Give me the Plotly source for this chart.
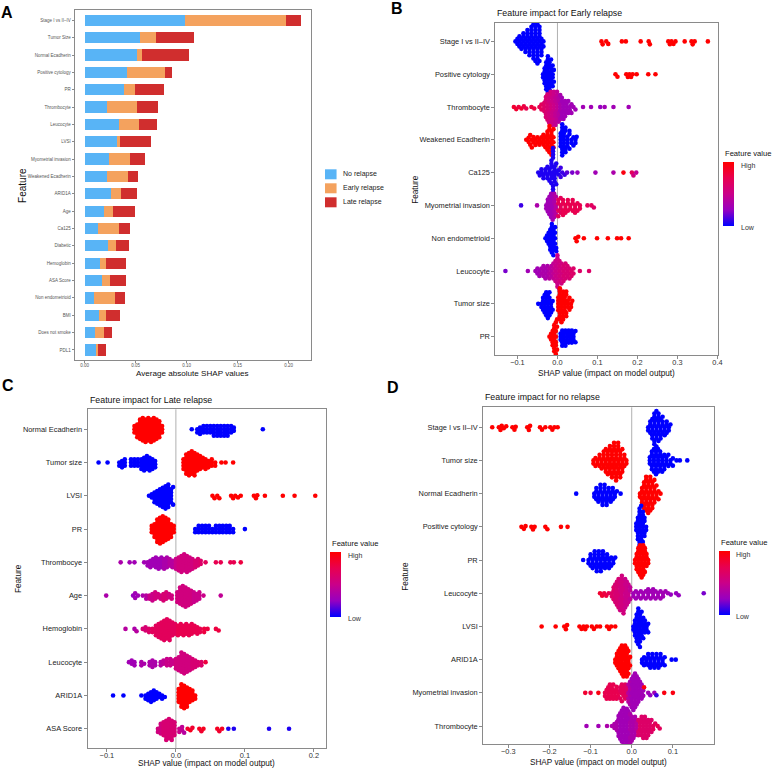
import math
import plotly.graph_objects as go

W, H = 777, 770
FONT = "Liberation Sans, Arial, sans-serif"

# ---------------- Panel A data ----------------
A_features = ["Stage I vs II–IV", "Tumor Size", "Normal Ecadherin", "Positive cytology", "PR",
              "Thrombocyte", "Leucocyte", "LVSI", "Myometrial invasion", "Weakened Ecadherin",
              "ARID1A", "Age", "Ca125", "Diabetic", "Hemoglobin", "ASA Score",
              "Non endometrioid", "BMI", "Does not smoke", "PDL1"]
A_no_relapse = [0.098, 0.054, 0.051, 0.042, 0.039, 0.022, 0.034, 0.032, 0.024, 0.022,
                0.026, 0.019, 0.013, 0.023, 0.015, 0.017, 0.009, 0.014, 0.010, 0.011]
A_early_relapse = [0.099, 0.016, 0.005, 0.037, 0.010, 0.029, 0.019, 0.003, 0.021, 0.021,
                   0.010, 0.009, 0.021, 0.008, 0.006, 0.008, 0.021, 0.007, 0.009, 0.002]
A_late_relapse = [0.015, 0.037, 0.046, 0.007, 0.029, 0.021, 0.018, 0.030, 0.014, 0.009,
                  0.015, 0.021, 0.011, 0.013, 0.020, 0.016, 0.010, 0.014, 0.008, 0.008]
A_series = ["No relapse", "Early relapse", "Late relapse"]
A_colors = ["#58B4F6", "#F4A25E", "#D02E2E"]
A_ticks = [0.0, 0.05, 0.10, 0.15, 0.20]
A_ticktext = ["0.00", "0.05", "0.10", "0.15", "0.20"]

# ---------------- Beeswarm data: (shap value, count, feature value 0..1) ----------------
B_features = ["Stage I vs II–IV", "Positive cytology", "Thrombocyte", "Weakened Ecadherin", "Ca125",
              "Myometrial invasion", "Non endometrioid", "Leucocyte", "Tumor size", "PR"]
B_stage = [(-0.105, 1, 0), (-0.1, 2, 0), (-0.095, 3, 0), (-0.09, 3, 0), (-0.085, 4, 0), (-0.08, 4, 0),
           (-0.075, 5, 0), (-0.07, 5, 0), (-0.065, 6, 0), (-0.06, 7, 0), (-0.055, 8, 0), (-0.05, 8, 0),
           (-0.045, 7, 0), (-0.04, 5, 0), (-0.035, 2, 0),
           (0.110, 1, 1), (0.113, 1, 1), (0.122, 1, 1), (0.127, 1, 1), (0.161, 1, 1), (0.171, 1, 1),
           (0.208, 1, 1), (0.228, 1, 1), (0.231, 1, 1), (0.277, 1, 1), (0.281, 1, 1), (0.285, 1, 1),
           (0.290, 1, 1), (0.295, 1, 1), (0.318, 1, 1), (0.335, 1, 1), (0.338, 1, 1), (0.343, 1, 1),
           (0.376, 1, 1)]
B_cytology = [(-0.036, 2, 0), (-0.032, 4, 0), (-0.028, 6, 0), (-0.024, 7, 0), (-0.02, 7, 0),
              (-0.016, 6, 0), (-0.012, 4, 0), (-0.009, 2, 0),
              (0.145, 1, 1), (0.150, 1, 1), (0.172, 1, 1), (0.176, 1, 1), (0.180, 1, 1), (0.184, 1, 1),
              (0.188, 1, 1), (0.198, 1, 1), (0.227, 1, 1), (0.245, 1, 1)]
B_thrombocyte = [(-0.109, 1, 0.85), (-0.103, 1, 0.85), (-0.097, 1, 0.8), (-0.09, 1, 0.85), (-0.084, 1, 0.8),
                 (-0.078, 1, 0.75), (-0.065, 1, 0.8), (-0.058, 1, 0.8), (-0.045, 1, 0.75), (-0.04, 2, 0.7),
                 (-0.033, 3, 0.65), (-0.029, 4, 0.6), (-0.025, 5, 0.6), (-0.021, 5, 0.55), (-0.017, 6, 0.55),
                 (-0.013, 6, 0.5), (-0.009, 6, 0.5), (-0.005, 6, 0.45), (-0.001, 6, 0.45), (0.003, 5, 0.4),
                 (0.007, 5, 0.35), (0.011, 4, 0.3), (0.015, 4, 0.3), (0.019, 3, 0.3), (0.023, 3, 0.3),
                 (0.027, 2, 0.3), (0.031, 2, 0.3), (0.035, 2, 0.3), (0.04, 1, 0.3), (0.045, 1, 0.3),
                 (0.064, 1, 0.3), (0.084, 1, 0.3), (0.107, 1, 0.25), (0.118, 1, 0.3), (0.14, 1, 0.3),
                 (0.178, 1, 0.3)]
B_weak_ecad = [(-0.078, 1, 1), (-0.072, 2, 1), (-0.068, 2, 1), (-0.064, 2, 1), (-0.06, 2, 1), (-0.055, 2, 1),
               (-0.05, 2, 1), (-0.045, 2, 1), (-0.04, 2, 1), (-0.035, 3, 1), (-0.03, 3, 1), (-0.025, 5, 1),
               (-0.02, 6, 1), (-0.015, 6, 1), (-0.01, 4, 1),
               (0.008, 5, 0), (0.012, 6, 0), (0.016, 5, 0), (0.02, 4, 0), (0.025, 4, 0), (0.03, 3, 0),
               (0.035, 2, 0), (0.04, 2, 0), (0.045, 2, 0), (0.048, 1, 0)]
B_ca125 = [(-0.048, 1, 0.05), (-0.044, 1, 0.05), (-0.04, 2, 0.05), (-0.035, 2, 0.05), (-0.03, 2, 0.05),
           (-0.025, 3, 0.05), (-0.02, 3, 0.05), (-0.015, 6, 0.05), (-0.011, 9, 0.05), (-0.007, 5, 0.05),
           (-0.003, 3, 0.05), (0.003, 2, 0.05), (0.008, 2, 0.1), (0.012, 1, 0.1), (0.018, 1, 0.1),
           (0.024, 1, 0.15), (0.037, 1, 0.2), (0.05, 1, 0.25), (0.095, 1, 0.3), (0.14, 1, 0.35),
           (0.165, 1, 0.95), (0.186, 1, 0.7), (0.19, 1, 0.55), (0.197, 1, 0.45)]
B_myometrial = [(-0.091, 1, 0.1), (-0.051, 1, 0.35), (-0.028, 2, 0.3), (-0.024, 3, 0.3), (-0.02, 4, 0.3),
                (-0.016, 5, 0.3), (-0.012, 5, 0.3), (-0.008, 5, 0.35), (-0.004, 4, 0.4), (0.002, 4, 0.7),
                (0.008, 4, 0.7), (0.014, 4, 0.75), (0.02, 3, 0.75), (0.026, 3, 0.75), (0.032, 2, 0.75),
                (0.038, 3, 0.75), (0.044, 3, 0.75), (0.05, 2, 0.75), (0.056, 2, 0.75), (0.075, 1, 0.7),
                (0.085, 1, 0.7), (0.091, 1, 0.65)]
B_nonendo = [(-0.03, 1, 0), (-0.026, 2, 0), (-0.022, 3, 0), (-0.018, 5, 0), (-0.014, 6, 0), (-0.01, 6, 0),
             (-0.006, 4, 0), (-0.003, 2, 0),
             (0.045, 1, 1), (0.048, 1, 1), (0.052, 1, 1), (0.066, 1, 1), (0.099, 1, 1), (0.126, 1, 1),
             (0.149, 1, 1), (0.159, 1, 1), (0.178, 1, 1)]
B_leucocyte = [(-0.13, 1, 0.2), (-0.074, 1, 0.3), (-0.055, 1, 0.3), (-0.05, 2, 0.3), (-0.045, 2, 0.3),
               (-0.04, 2, 0.35), (-0.035, 3, 0.35), (-0.03, 3, 0.35), (-0.025, 3, 0.35), (-0.02, 3, 0.4),
               (-0.015, 3, 0.4), (-0.01, 4, 0.45), (-0.005, 5, 0.5), (0.0, 8, 0.5), (0.005, 6, 0.55),
               (0.01, 5, 0.55), (0.015, 4, 0.6), (0.02, 4, 0.6), (0.025, 3, 0.6), (0.03, 3, 0.6),
               (0.035, 2, 0.65), (0.04, 2, 0.65), (0.056, 1, 0.65), (0.079, 1, 0.65)]
B_tumor = [(-0.048, 1, 0), (-0.04, 2, 0), (-0.036, 3, 0), (-0.032, 4, 0), (-0.028, 5, 0), (-0.024, 5, 0),
           (-0.02, 5, 0), (-0.016, 3, 0), (-0.012, 2, 0),
           (0.002, 5, 1), (0.006, 6, 1), (0.01, 6, 1), (0.014, 5, 1), (0.018, 5, 1), (0.022, 4, 1),
           (0.026, 3, 1), (0.03, 2, 1), (0.034, 2, 1), (0.037, 1, 1)]
B_pr = [(-0.02, 1, 1), (-0.016, 2, 1), (-0.012, 4, 1), (-0.008, 6, 1), (-0.004, 6, 1), (-0.001, 3, 1),
        (0.008, 3, 0), (0.012, 3, 0), (0.016, 3, 0), (0.02, 3, 0), (0.024, 3, 0), (0.028, 2, 0),
        (0.032, 3, 0), (0.036, 2, 0), (0.04, 3, 0), (0.045, 2, 0)]
B_rows = [B_stage, B_cytology, B_thrombocyte, B_weak_ecad, B_ca125,
          B_myometrial, B_nonendo, B_leucocyte, B_tumor, B_pr]

C_features = ["Normal Ecadherin", "Tumor size", "LVSI", "PR", "Thrombocye",
              "Age", "Hemoglobin", "Leucocyte", "ARID1A", "ASA Score"]
C_ecad = [(-0.06, 3, 1), (-0.056, 5, 1), (-0.052, 7, 1), (-0.048, 8, 1), (-0.044, 8, 1), (-0.04, 8, 1),
          (-0.036, 8, 1), (-0.032, 8, 1), (-0.028, 7, 1), (-0.024, 6, 1), (-0.02, 3, 1),
          (0.023, 1, 0), (0.031, 2, 0), (0.035, 3, 0), (0.04, 3, 0), (0.045, 3, 0), (0.05, 3, 0),
          (0.055, 4, 0), (0.06, 4, 0), (0.065, 4, 0), (0.07, 4, 0), (0.075, 4, 0), (0.08, 3, 0),
          (0.084, 2, 0), (0.126, 1, 0)]
C_tumor = [(-0.112, 1, 0), (-0.099, 1, 0), (-0.082, 2, 0), (-0.078, 3, 0), (-0.074, 3, 0), (-0.065, 3, 0),
           (-0.06, 3, 0), (-0.055, 3, 0), (-0.05, 4, 0), (-0.046, 5, 0), (-0.042, 5, 0), (-0.038, 5, 0),
           (-0.034, 4, 0), (-0.03, 3, 0),
           (0.011, 4, 1), (0.015, 7, 1), (0.019, 8, 1), (0.023, 8, 1), (0.027, 8, 1), (0.031, 6, 1),
           (0.035, 5, 1), (0.039, 4, 1), (0.043, 4, 1), (0.047, 3, 1), (0.052, 3, 1), (0.057, 2, 1),
           (0.066, 1, 1), (0.072, 1, 1), (0.083, 1, 1)]
C_lvsi = [(-0.039, 1, 0), (-0.035, 2, 0), (-0.031, 4, 0), (-0.027, 5, 0), (-0.023, 6, 0), (-0.019, 7, 0),
          (-0.015, 8, 0), (-0.011, 8, 0), (-0.007, 5, 0), (-0.004, 2, 0),
          (0.053, 1, 1), (0.056, 1, 1), (0.06, 1, 1), (0.063, 1, 1), (0.08, 1, 1), (0.083, 1, 1),
          (0.086, 1, 1), (0.09, 1, 1), (0.094, 1, 1), (0.113, 1, 1), (0.116, 1, 1), (0.118, 1, 1),
          (0.129, 1, 1), (0.155, 1, 1), (0.172, 1, 1), (0.202, 1, 1)]
C_pr = [(-0.035, 3, 1), (-0.031, 5, 1), (-0.027, 8, 1), (-0.023, 9, 1), (-0.019, 9, 1), (-0.015, 8, 1),
        (-0.011, 7, 1), (-0.007, 5, 1), (-0.003, 3, 1),
        (0.028, 2, 0), (0.033, 3, 0), (0.038, 3, 0), (0.043, 3, 0), (0.048, 3, 0), (0.053, 2, 0),
        (0.058, 3, 0), (0.063, 3, 0), (0.068, 3, 0), (0.073, 3, 0), (0.078, 3, 0), (0.083, 2, 0),
        (0.1, 1, 0)]
C_thrombocye = [(-0.08, 1, 0.35), (-0.067, 1, 0.3), (-0.06, 1, 0.3), (-0.046, 1, 0.3), (-0.041, 2, 0.3),
                (-0.037, 3, 0.3), (-0.033, 3, 0.3), (-0.029, 4, 0.3), (-0.025, 4, 0.3), (-0.021, 4, 0.3),
                (-0.017, 4, 0.35), (-0.013, 4, 0.35), (-0.009, 3, 0.4), (-0.005, 3, 0.4), (0.0, 4, 0.5),
                (0.004, 5, 0.55), (0.008, 6, 0.55), (0.012, 6, 0.55), (0.016, 6, 0.55), (0.02, 5, 0.55),
                (0.024, 4, 0.55), (0.028, 3, 0.6), (0.032, 3, 0.6), (0.036, 2, 0.65), (0.043, 1, 0.7),
                (0.058, 1, 0.75), (0.065, 1, 0.75), (0.079, 1, 0.75), (0.084, 1, 0.75), (0.094, 1, 0.8)]
C_age = [(-0.101, 1, 0.35), (-0.062, 1, 0.25), (-0.059, 2, 0.3), (-0.055, 1, 0.3), (-0.048, 1, 0.35),
         (-0.043, 2, 0.4), (-0.038, 2, 0.5), (-0.034, 3, 0.5), (-0.03, 3, 0.55), (-0.026, 2, 0.55),
         (-0.022, 2, 0.55), (-0.018, 3, 0.6), (-0.014, 3, 0.6), (-0.01, 2, 0.55), (-0.006, 2, 0.55),
         (0.002, 4, 0.55), (0.006, 6, 0.55), (0.01, 7, 0.55), (0.014, 7, 0.55), (0.018, 6, 0.55),
         (0.022, 5, 0.55), (0.026, 4, 0.5), (0.03, 3, 0.5), (0.034, 3, 0.5), (0.04, 1, 0.5),
         (0.065, 1, 0.45)]
C_hemoglobin = [(-0.073, 1, 0.4), (-0.06, 1, 0.35), (-0.057, 1, 0.4), (-0.048, 1, 0.6), (-0.044, 2, 0.6),
                (-0.039, 2, 0.65), (-0.034, 2, 0.7), (-0.029, 4, 0.7), (-0.025, 5, 0.7), (-0.021, 6, 0.7),
                (-0.017, 7, 0.7), (-0.013, 7, 0.7), (-0.009, 7, 0.7), (-0.005, 5, 0.7), (-0.001, 4, 0.7),
                (0.003, 4, 0.75), (0.007, 4, 0.75), (0.011, 4, 0.75), (0.015, 4, 0.75), (0.019, 4, 0.75),
                (0.023, 4, 0.75), (0.027, 3, 0.75), (0.031, 3, 0.75), (0.035, 2, 0.75), (0.041, 2, 0.8),
                (0.046, 1, 0.8), (0.058, 1, 0.8), (0.062, 1, 0.8)]
C_leucocyte = [(-0.068, 1, 0.3), (-0.064, 2, 0.3), (-0.06, 2, 0.3), (-0.05, 2, 0.35), (-0.046, 1, 0.35),
               (-0.038, 2, 0.35), (-0.034, 3, 0.35), (-0.03, 2, 0.35), (-0.022, 2, 0.4), (-0.018, 2, 0.45),
               (-0.013, 3, 0.5), (-0.008, 3, 0.5), (-0.004, 2, 0.5), (0.0, 4, 0.55), (0.004, 5, 0.55),
               (0.008, 7, 0.55), (0.012, 7, 0.55), (0.016, 6, 0.55), (0.02, 5, 0.55), (0.024, 4, 0.6),
               (0.028, 3, 0.6), (0.032, 2, 0.6), (0.037, 2, 0.65), (0.043, 1, 0.8)]
C_arid1a = [(-0.091, 1, 0), (-0.076, 1, 0), (-0.05, 1, 0), (-0.044, 2, 0), (-0.04, 3, 0), (-0.036, 4, 0),
            (-0.032, 4, 0), (-0.028, 3, 0), (-0.024, 2, 0), (-0.02, 2, 0), (-0.016, 1, 0),
            (0.004, 5, 1), (0.008, 8, 1), (0.012, 8, 1), (0.016, 7, 1), (0.02, 5, 1), (0.024, 4, 1),
            (0.028, 2, 1)]
C_asa = [(-0.026, 2, 0.55), (-0.022, 4, 0.55), (-0.018, 5, 0.6), (-0.014, 7, 0.6), (-0.01, 7, 0.6),
         (-0.006, 7, 0.6), (-0.002, 5, 0.6), (0.005, 2, 0.5), (0.009, 2, 0.45), (0.012, 1, 0.4),
         (0.017, 1, 0.85), (0.021, 1, 0.9), (0.024, 1, 0.85), (0.034, 1, 0.9), (0.037, 1, 0.85),
         (0.04, 1, 0.9), (0.06, 1, 0.9), (0.063, 1, 0.85), (0.067, 1, 0.9), (0.076, 1, 0.05),
         (0.084, 1, 0.05), (0.135, 1, 0.05), (0.164, 1, 0.05)]
C_rows = [C_ecad, C_tumor, C_lvsi, C_pr, C_thrombocye, C_age, C_hemoglobin, C_leucocyte, C_arid1a, C_asa]

D_features = ["Stage I vs II–IV", "Tumor size", "Normal Ecadherin", "Positive cytology", "PR",
              "Leucocyte", "LVSI", "ARID1A", "Myometrial invasion", "Thrombocyte"]
D_stage = [(-0.339, 1, 1), (-0.323, 1, 1), (-0.319, 1, 1), (-0.316, 1, 1), (-0.311, 1, 1), (-0.305, 1, 1),
           (-0.29, 1, 1), (-0.285, 1, 1), (-0.282, 1, 1), (-0.254, 1, 1), (-0.25, 1, 1), (-0.247, 1, 1),
           (-0.223, 1, 1), (-0.218, 1, 1), (-0.21, 1, 1), (-0.198, 1, 1), (-0.193, 1, 1), (-0.188, 1, 1),
           (-0.18, 1, 1),
           (0.04, 2, 0), (0.045, 3, 0), (0.05, 5, 0), (0.055, 7, 0), (0.06, 7, 0), (0.065, 6, 0),
           (0.07, 5, 0), (0.075, 4, 0), (0.08, 3, 0), (0.085, 3, 0), (0.09, 2, 0), (0.094, 1, 0)]
D_tumor = [(-0.093, 2, 1), (-0.088, 2, 1), (-0.083, 2, 1), (-0.078, 3, 1), (-0.073, 3, 1), (-0.068, 4, 1),
           (-0.063, 5, 1), (-0.058, 5, 1), (-0.053, 6, 1), (-0.048, 6, 1), (-0.043, 7, 1), (-0.038, 7, 1),
           (-0.033, 7, 1), (-0.028, 6, 1), (-0.023, 5, 1), (-0.018, 3, 1), (-0.013, 2, 1),
           (0.044, 3, 0), (0.049, 4, 0), (0.054, 5, 0), (0.059, 5, 0), (0.064, 5, 0), (0.069, 4, 0),
           (0.074, 4, 0), (0.079, 3, 0), (0.084, 3, 0), (0.089, 2, 0), (0.094, 2, 0), (0.1, 2, 0),
           (0.109, 1, 0), (0.117, 1, 0), (0.135, 1, 0)]
D_ecad = [(-0.135, 1, 0), (-0.091, 2, 0), (-0.086, 3, 0), (-0.081, 3, 0), (-0.076, 4, 0), (-0.071, 4, 0),
          (-0.066, 4, 0), (-0.061, 4, 0), (-0.056, 3, 0), (-0.051, 3, 0), (-0.046, 3, 0), (-0.041, 2, 0),
          (-0.036, 1, 0), (-0.027, 1, 0),
          (0.02, 2, 1), (0.025, 4, 1), (0.03, 6, 1), (0.035, 7, 1), (0.04, 7, 1), (0.045, 7, 1),
          (0.05, 6, 1), (0.055, 5, 1), (0.06, 3, 1), (0.065, 2, 1), (0.07, 1, 1)]
D_cytology = [(-0.268, 1, 1), (-0.262, 1, 1), (-0.258, 1, 1), (-0.244, 1, 1), (-0.24, 1, 1), (-0.236, 1, 1),
              (-0.21, 1, 1), (-0.205, 1, 1), (-0.172, 1, 1), (-0.156, 1, 1),
              (0.011, 3, 0), (0.015, 5, 0), (0.019, 8, 0), (0.023, 8, 0), (0.027, 6, 0), (0.031, 4, 0),
              (0.035, 2, 0)]
D_pr = [(-0.118, 1, 0), (-0.105, 2, 0), (-0.1, 3, 0), (-0.095, 3, 0), (-0.09, 4, 0), (-0.085, 4, 0),
        (-0.08, 4, 0), (-0.075, 4, 0), (-0.07, 4, 0), (-0.065, 3, 0), (-0.06, 3, 0), (-0.055, 3, 0),
        (-0.05, 2, 0), (-0.045, 2, 0), (-0.04, 1, 0),
        (0.008, 2, 1), (0.012, 4, 1), (0.016, 5, 1), (0.02, 6, 1), (0.024, 6, 1), (0.028, 6, 1),
        (0.032, 5, 1), (0.036, 3, 1), (0.04, 2, 1)]
D_leucocyte = [(-0.077, 1, 0.85), (-0.072, 1, 0.85), (-0.067, 1, 0.8), (-0.062, 1, 0.8), (-0.056, 1, 0.75),
               (-0.048, 2, 0.65), (-0.044, 3, 0.65), (-0.04, 4, 0.6), (-0.036, 5, 0.6), (-0.032, 6, 0.6),
               (-0.028, 6, 0.55), (-0.024, 7, 0.55), (-0.02, 7, 0.55), (-0.016, 6, 0.5), (-0.012, 5, 0.5),
               (-0.008, 4, 0.5), (-0.004, 3, 0.45), (0.004, 2, 0.3), (0.01, 2, 0.3), (0.016, 2, 0.3),
               (0.022, 2, 0.3), (0.028, 2, 0.3), (0.034, 2, 0.3), (0.04, 3, 0.3), (0.046, 2, 0.3),
               (0.052, 3, 0.3), (0.058, 2, 0.3), (0.064, 2, 0.3), (0.07, 2, 0.3), (0.076, 2, 0.3),
               (0.082, 1, 0.3), (0.088, 1, 0.3), (0.095, 1, 0.25), (0.108, 1, 0.25), (0.114, 1, 0.25),
               (0.175, 1, 0.2)]
D_lvsi = [(-0.219, 1, 1), (-0.185, 1, 1), (-0.164, 1, 1), (-0.16, 1, 1), (-0.157, 1, 1), (-0.127, 1, 1),
          (-0.122, 1, 1), (-0.117, 1, 1), (-0.113, 1, 1), (-0.109, 1, 1), (-0.097, 1, 1), (-0.092, 1, 1),
          (-0.085, 1, 1), (-0.077, 1, 1), (-0.06, 1, 1), (-0.055, 1, 1), (-0.05, 1, 1), (-0.04, 1, 1),
          (0.004, 2, 0), (0.008, 4, 0), (0.012, 6, 0), (0.016, 7, 0), (0.02, 7, 0), (0.024, 5, 0),
          (0.028, 4, 0), (0.032, 3, 0), (0.036, 2, 0), (0.04, 2, 0)]
D_arid1a = [(-0.04, 2, 1), (-0.036, 3, 1), (-0.032, 4, 1), (-0.028, 5, 1), (-0.024, 6, 1), (-0.02, 6, 1),
            (-0.016, 6, 1), (-0.012, 6, 1), (-0.008, 5, 1), (-0.004, 2, 1),
            (0.025, 2, 0), (0.03, 2, 0), (0.035, 2, 0), (0.04, 3, 0), (0.045, 3, 0), (0.05, 3, 0),
            (0.055, 3, 0), (0.06, 3, 0), (0.065, 3, 0), (0.07, 3, 0), (0.075, 2, 0), (0.08, 2, 0),
            (0.097, 1, 0), (0.107, 1, 0)]
D_myometrial = [(-0.113, 1, 0.85), (-0.1, 1, 0.8), (-0.081, 1, 0.95), (-0.065, 2, 0.75), (-0.061, 2, 0.75),
                (-0.057, 3, 0.75), (-0.053, 3, 0.75), (-0.049, 3, 0.75), (-0.045, 3, 0.75), (-0.041, 2, 0.75),
                (-0.037, 3, 0.75), (-0.033, 2, 0.75), (-0.028, 3, 0.7), (-0.024, 3, 0.7), (-0.02, 3, 0.7),
                (-0.016, 3, 0.7), (-0.012, 3, 0.65), (-0.008, 4, 0.4), (-0.004, 5, 0.35), (0.0, 6, 0.3),
                (0.004, 7, 0.3), (0.008, 7, 0.3), (0.012, 6, 0.3), (0.016, 5, 0.3), (0.02, 4, 0.3),
                (0.024, 3, 0.3), (0.028, 2, 0.3), (0.03, 1, 0.95), (0.04, 1, 0.3), (0.045, 1, 0.25),
                (0.055, 1, 0.3), (0.06, 1, 0.1), (0.079, 1, 0.95), (0.1, 1, 0.95)]
D_thrombocyte = [(-0.11, 1, 0.3), (-0.081, 1, 0.3), (-0.06, 1, 0.35), (-0.048, 1, 0.35), (-0.042, 2, 0.35),
                 (-0.036, 3, 0.35), (-0.032, 4, 0.3), (-0.028, 5, 0.3), (-0.024, 6, 0.3), (-0.02, 7, 0.3),
                 (-0.016, 7, 0.3), (-0.012, 7, 0.3), (-0.008, 7, 0.3), (-0.004, 6, 0.35), (0.0, 5, 0.35),
                 (0.004, 4, 0.35), (0.008, 4, 0.35), (0.012, 3, 0.4), (0.016, 3, 0.6), (0.02, 3, 0.65),
                 (0.024, 4, 0.65), (0.028, 4, 0.65), (0.032, 4, 0.65), (0.036, 4, 0.65), (0.04, 3, 0.65),
                 (0.044, 3, 0.65), (0.048, 2, 0.65), (0.052, 2, 0.7), (0.057, 1, 0.7), (0.063, 1, 0.75),
                 (0.068, 1, 0.7)]
D_rows = [D_stage, D_tumor, D_ecad, D_cytology, D_pr, D_leucocyte, D_lvsi, D_arid1a, D_myometrial,
          D_thrombocyte]

SHAP_COLORSCALE = [[0.0, "#0000FF"], [0.25, "#9700C0"], [0.5, "#CA0089"], [0.75, "#E80050"], [1.0, "#FF0000"]]

# ---------------- layout helpers ----------------
def fx(px):
    return px / W

def fy(py):
    return 1 - py / H

# plot boxes in pixels (left, top, right, bottom) and axis ranges
BOX = {
    "A": (75, 10, 313, 360),
    "B": (498, 22.7, 722, 355),
    "C": (88, 409.3, 328, 748),
    "D": (485.7, 407.3, 717.3, 744.3),
}
XR = {"A": [-0.0097, 0.2222], "B": [-0.155, 0.402], "C": [-0.128, 0.218], "D": [-0.361, 0.199]}
YR = {"A": [19.58, -0.594], "B": [9.56, -0.57], "C": [9.58, -0.60], "D": [9.55, -0.60]}
AX = {"A": ("x", "y", "xaxis", "yaxis"), "B": ("x2", "y2", "xaxis2", "yaxis2"),
      "C": ("x3", "y3", "xaxis3", "yaxis3"), "D": ("x4", "y4", "xaxis4", "yaxis4")}


def swarm(xs_px, d):
    order = sorted(range(len(xs_px)), key=lambda i: xs_px[i])
    placed = []
    ys = [0.0] * len(xs_px)
    for i in order:
        x = xs_px[i]
        near = [(px, py) for px, py in placed if abs(px - x) < d]
        cands = [0.0]
        for px, py in near:
            h = math.sqrt(max(d * d - (px - x) ** 2, 0.0))
            cands += [py + h, py - h]
        cands.sort(key=lambda c: (round(abs(c), 6), c < 0))
        for c in cands:
            if all((px - x) ** 2 + (py - c) ** 2 >= d * d - 1e-6 for px, py in near):
                ys[i] = c
                break
        placed.append((x, ys[i]))
    return ys


fig = go.Figure()

# ---------------- Panel A: stacked bars ----------------
for name, vals, col in zip(A_series, [A_no_relapse, A_early_relapse, A_late_relapse], A_colors):
    fig.add_trace(go.Bar(x=vals, y=list(range(len(A_features))), orientation="h", name=name,
                         marker=dict(color=col, line=dict(width=0)), width=0.65,
                         xaxis="x", yaxis="y", showlegend=False, hoverinfo="skip"))

# ---------------- Beeswarm panels ----------------
CBAR = {"B": (727, 162, 64), "C": (331.7, 551.7, 65), "D": (722.3, 550.7, 64)}
for key, rows in [("B", B_rows), ("C", C_rows), ("D", D_rows)]:
    l, t, r, b = BOX[key]
    xr, yr = XR[key], YR[key]
    ppx = (r - l) / (xr[1] - xr[0])
    ppy = (b - t) / (yr[0] - yr[1])
    X, Y, Cc = [], [], []
    for i, row in enumerate(rows):
        xs, cs = [], []
        for v, n, f in row:
            xs += [v] * n
            cs += [f] * n
        offs = swarm([v * ppx for v in xs], 3.2)
        X += xs
        Y += [i + o / ppy for o in offs]
        Cc += cs
    cx, cy, clen = CBAR[key]
    fig.add_trace(go.Scatter(
        x=X, y=Y, mode="markers", xaxis=AX[key][0], yaxis=AX[key][1], showlegend=False,
        hoverinfo="skip",
        marker=dict(size=4.6, color=Cc, colorscale=SHAP_COLORSCALE, cmin=0, cmax=1,
                    line=dict(width=0), showscale=True,
                    colorbar=dict(thickness=11, thicknessmode="pixels", len=clen, lenmode="pixels",
                                  x=fx(cx), xanchor="left", y=fy(cy), yanchor="top",
                                  xpad=0, ypad=0, outlinewidth=0, showticklabels=False, ticks=""))))

# ---------------- axes ----------------
frame = dict(showline=True, mirror=True, linecolor="#8a8a8a", linewidth=1, showgrid=False,
             zeroline=False, ticks="outside", tickcolor="#8a8a8a")
layout_axes = {}
for key in "ABCD":
    l, t, r, b = BOX[key]
    xa, ya = AX[key][2], AX[key][3]
    layout_axes[xa] = dict(frame, domain=[fx(l), fx(r)], range=XR[key], anchor=AX[key][1])
    layout_axes[ya] = dict(frame, domain=[fy(b), fy(t)], range=YR[key], anchor=AX[key][0])

layout_axes["xaxis"].update(tickvals=A_ticks, ticktext=A_ticktext, ticklen=2, ticklabelstandoff=-1,
                            tickfont=dict(size=4.5, color="#555", family=FONT))
layout_axes["yaxis"].update(tickvals=list(range(len(A_features))), ticktext=A_features, ticklen=2,
                            tickfont=dict(size=4.5, color="#555", family=FONT))
tick_sets = {"B": [-0.1, 0.0, 0.1, 0.2, 0.3, 0.4], "C": [-0.1, 0.0, 0.1, 0.2],
             "D": [-0.3, -0.2, -0.1, 0.0, 0.1]}
feat_sets = {"B": B_features, "C": C_features, "D": D_features}
for key in "BCD":
    xa, ya = AX[key][2], AX[key][3]
    tv = tick_sets[key]
    layout_axes[xa].update(tickvals=tv, ticktext=[("−%.1f" % -v) if v < 0 else "%.1f" % v for v in tv],
                           ticklen=3, ticklabelstandoff=-3,
                           tickfont=dict(size=7.4, color="#333", family=FONT))
    layout_axes[ya].update(tickvals=list(range(10)), ticktext=feat_sets[key], ticklen=3,
                           tickfont=dict(size=7.4, color="#222", family=FONT))

# ---------------- shapes: zero lines + manual legend ----------------
shapes = []
for key in "BCD":
    shapes.append(dict(type="line", xref=AX[key][0], yref=AX[key][1] + " domain", x0=0, x1=0, y0=0, y1=1,
                       line=dict(color="#b0b0b0", width=1), layer="below"))
leg_y = [169.3, 183.3, 197.3]
for yy, col in zip(leg_y, A_colors):
    shapes.append(dict(type="rect", xref="paper", yref="paper", x0=fx(326.7), x1=fx(338.3),
                       y0=fy(yy + 10), y1=fy(yy), fillcolor=col, line=dict(width=0)))

# ---------------- annotations ----------------
ann = []
def text(s, x, y, size, xanchor="center", yanchor="middle", bold=False, angle=0, color="#111"):
    ann.append(dict(text=("<b>%s</b>" % s) if bold else s, x=fx(x), y=fy(y), xref="paper", yref="paper",
                    xanchor=xanchor, yanchor=yanchor, showarrow=False, textangle=angle,
                    font=dict(size=size, color=color, family=FONT)))

for s, x, y in [("A", 7.2, 12.5), ("B", 399, 8.5), ("C", 8, 385.5), ("D", 395, 387.5)]:
    text(s, x, y, 16, bold=True, color="#000")
for yy, s in zip(leg_y, A_series):
    text(s, 342.7, yy + 5, 7, xanchor="left", color="#222")
text("Average absolute SHAP values", 193.8, 373.8, 8.1)
text("Feature", 22, 185, 10, angle=-90)
text("Feature impact for Early relapse", 498, 13.3, 8.8, xanchor="left")
text("Feature impact for Late relapse", 88, 400, 8.8, xanchor="left")
text("Feature impact for no relapse", 485.7, 397.3, 8.8, xanchor="left")
for x, y in [(610, 373), (208, 763.5), (601.5, 762.5)]:
    text("SHAP value (impact on model output)", x, y, 8.2)
for x, y in [(417, 189), (18.5, 578.6), (408, 575.8)]:
    text("Feature", x, y, 8.2, angle=-90)
for (cx, cy, clen), in [((727, 162, 64),), ((331.7, 551.7, 65),), ((722.3, 550.7, 64),)]:
    text("Feature value", cx, cy - 8, 7.6, xanchor="left")
    text("High", cx + 16, cy + 4, 7, xanchor="left", color="#333")
    text("Low", cx + 16, cy + clen + 1.5, 7, xanchor="left", color="#333")

fig.update_layout(width=W, height=H, autosize=False, margin=dict(l=0, r=0, t=0, b=0),
                  paper_bgcolor="white", plot_bgcolor="white", barmode="stack", bargap=0.35,
                  font=dict(family=FONT), shapes=shapes, annotations=ann, **layout_axes)

fig.write_html("out.html")
